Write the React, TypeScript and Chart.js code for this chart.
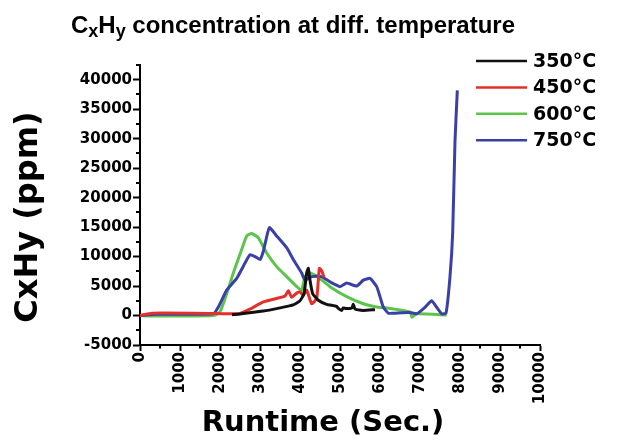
import { useEffect, useRef } from 'react';
import { Chart, registerables } from 'chart.js';

Chart.register(...registerables);

// Runtime (s) / concentration (ppm) for each temperature
const t350 = [2300, 2500, 3083, 3500, 3833, 4000, 4100, 4167, 4208, 4250, 4317, 4458, 4667, 4917, 4958, 5042, 5080, 5150, 5250, 5300, 5333, 5375, 5417, 5583, 5875];
const v350 = [150, 250, 750, 1300, 1800, 2500, 3700, 7200, 8000, 6000, 3700, 2600, 1900, 1550, 1200, 860, 1300, 1200, 1200, 1300, 1900, 1100, 1000, 860, 1000];

const t450 = [0, 300, 1833, 2000, 2500, 2750, 3083, 3417, 3625, 3708, 3792, 3917, 4000, 4083, 4167, 4292, 4417, 4483, 4542, 4600];
const v450 = [0, 400, 350, 300, 350, 1100, 2300, 2900, 3300, 4200, 3100, 3800, 4000, 3400, 4300, 2000, 2900, 8000, 7600, 6500];

const t600 = [0, 400, 1833, 2000, 2167, 2333, 2542, 2667, 2792, 2958, 3167, 3417, 3667, 3917, 4042, 4125, 4250, 4417, 4750, 5167, 5583, 5958, 6167, 6750, 6800, 6917, 7667];
const v600 = [0, -100, 0, 600, 3700, 7200, 11200, 13500, 13900, 13200, 10600, 8300, 6600, 4900, 4300, 6600, 7200, 6700, 4900, 3200, 2000, 1400, 1300, 600, -300, 300, 100];

const t750 = [0, 417, 1833, 1958, 2167, 2417, 2625, 2750, 2875, 3000, 3083, 3233, 3417, 3667, 3833, 4042, 4125, 4292, 4542, 4750, 5000, 5167, 5417, 5583, 5750, 5917, 6000, 6083, 6208, 6333, 6750, 6917, 7125, 7292, 7417, 7542, 7650, 7750, 7817, 7875, 7933];
const v750 = [0, 200, 300, 1430, 4300, 6300, 8900, 10300, 10000, 9500, 10900, 14900, 13500, 11500, 9500, 7200, 6000, 6600, 6600, 5700, 4900, 5500, 5000, 6000, 6300, 4900, 3200, 1400, 400, 400, 500, 300, 1400, 2500, 1400, 300, 400, 6600, 14000, 29600, 38200];

const seriesLabels = ['350°C', '450°C', '600°C', '750°C'];
const seriesColors = ['#111111', '#e3302a', '#5cc44a', '#3a40a8'];
const seriesTimes = [t350, t450, t600, t750];
const seriesValues = [v350, v450, v600, v750];

const xMin = 0, xMax = 10000, xStep = 1000, xMinor = 500;
const yMin = -5000, yMax = 42500, yStep = 5000, yMinor = 2500;

const chartTitle = ['C', 'x', 'H', 'y', ' concentration at diff. temperature'];
const xTitle = 'Runtime (Sec.)';
const yTitle = 'CxHy (ppm)';

const TICK_FONT = 'DejaVu Sans';

const decorPlugin = {
  id: 'decor',
  afterDraw(chart: any) {
    const ctx = chart.ctx as CanvasRenderingContext2D;
    const area = chart.chartArea;
    const xs = chart.scales.x;
    const ys = chart.scales.y;
    ctx.save();
    // minor ticks
    ctx.strokeStyle = '#000';
    ctx.lineWidth = 2;
    ctx.beginPath();
    for (let v = xMin + xMinor; v < xMax; v += xStep) {
      const px = Math.round(xs.getPixelForValue(v));
      ctx.moveTo(px, area.bottom);
      ctx.lineTo(px, area.bottom + 3.5);
    }
    for (let v = yMin + yMinor; v <= yMax; v += yStep) {
      const py = Math.round(ys.getPixelForValue(v));
      ctx.moveTo(area.left, py);
      ctx.lineTo(area.left - 4, py);
    }
    ctx.stroke();

    // title with subscripts
    ctx.fillStyle = '#000';
    ctx.textBaseline = 'alphabetic';
    ctx.textAlign = 'left';
    const big = 'bold 24px "Liberation Sans", Arial, sans-serif';
    const small = 'bold 18px "Liberation Sans", Arial, sans-serif';
    const parts = chartTitle.map((s, i) => ({ s, sub: i === 1 || i === 3 }));
    let total = 0;
    parts.forEach((p) => { ctx.font = p.sub ? small : big; total += ctx.measureText(p.s).width; });
    let cx = 293 - total / 2;
    const base = 33;
    parts.forEach((p) => {
      ctx.font = p.sub ? small : big;
      ctx.fillText(p.s, cx, p.sub ? base + 4 : base);
      cx += ctx.measureText(p.s).width;
    });

    // axis titles
    ctx.font = `bold 29px "${TICK_FONT}"`;
    ctx.textAlign = 'center';
    ctx.textBaseline = 'middle';
    ctx.fillText(xTitle, 323, 423);
    ctx.save();
    ctx.translate(29, 217);
    ctx.rotate(-Math.PI / 2);
    ctx.font = `bold 32px "${TICK_FONT}"`;
    ctx.fillText(yTitle, 0, 0);
    ctx.restore();

    // legend
    ctx.font = `bold 19px "${TICK_FONT}"`;
    ctx.textAlign = 'left';
    ctx.textBaseline = 'middle';
    seriesLabels.forEach((lab, i) => {
      const y = 61 + i * 26.4;
      ctx.strokeStyle = seriesColors[i];
      ctx.lineWidth = 2.5;
      ctx.beginPath();
      ctx.moveTo(476, y);
      ctx.lineTo(527, y);
      ctx.stroke();
      ctx.fillStyle = '#000';
      ctx.fillText(lab, 533, y + 1);
    });
    ctx.restore();
  },
};

export default function App() {
  const ref = useRef<HTMLCanvasElement | null>(null);
  useEffect(() => {
    if (!ref.current) return;
    const datasets = seriesLabels.map((label, i) => ({
      label,
      data: seriesTimes[i].map((t, j) => ({ x: t, y: seriesValues[i][j] })),
      borderColor: seriesColors[i],
      backgroundColor: seriesColors[i],
      borderWidth: 3,
      pointRadius: 0,
      tension: 0.15,
      fill: false,
      order: [1, 2, 4, 3][i],
    }));
    const chart = new Chart(ref.current, {
      type: 'line',
      data: { datasets },
      options: {
        animation: false,
        responsive: false,
        devicePixelRatio: 1,
        layout: { padding: { top: 65, right: 86, left: 0, bottom: 0 } },
        plugins: { legend: { display: false }, title: { display: false }, tooltip: { enabled: false } },
        scales: {
          x: {
            type: 'linear',
            min: xMin,
            max: xMax,
            afterFit: (s: any) => { s.height = 97; },
            ticks: {
              stepSize: xStep,
              minRotation: 90,
              maxRotation: 90,
              padding: 1,
              color: '#000',
              autoSkip: false,
              font: { family: TICK_FONT, weight: 'bold', size: 15 },
              callback: (v: any) => String(v),
            },
            grid: { drawOnChartArea: false, drawTicks: true, tickLength: 6, tickColor: '#000', tickWidth: 2 },
            border: { color: '#000', width: 2 },
          },
          y: {
            type: 'linear',
            min: yMin,
            max: yMax,
            afterFit: (s: any) => { s.width = 140; },
            afterBuildTicks: (s: any) => {
              s.ticks = s.ticks.filter((t: any) => Math.abs(t.value % yStep) < 1e-6);
            },
            ticks: {
              stepSize: yMinor,
              padding: 1,
              autoSkip: false,
              color: '#000',
              font: { family: TICK_FONT, weight: 'bold', size: 15 },
              callback: (v: any) => String(v),
            },
            grid: { drawOnChartArea: false, drawTicks: true, tickLength: 7, tickColor: '#000', tickWidth: 2 },
            border: { color: '#000', width: 2 },
          },
        },
      },
      plugins: [decorPlugin],
    } as any);
    return () => chart.destroy();
  }, []);
  return (
    <div style={{ position: 'absolute', left: 0, top: 0, width: 626, height: 442, background: '#fff' }}>
      <canvas ref={ref} width={626} height={442} />
    </div>
  );
}
